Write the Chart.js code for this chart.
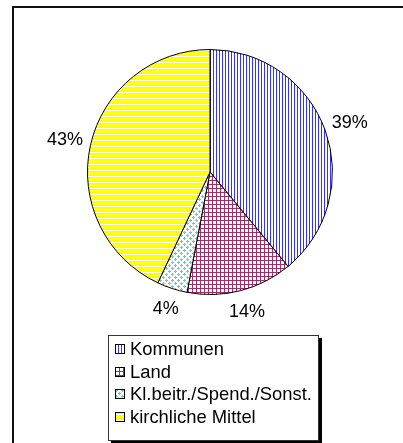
<!DOCTYPE html>
<html>
<head>
<meta charset="utf-8">
<script src="https://cdn.jsdelivr.net/npm/chart.js@4"></script>
<style>
    body { margin: 0; background: #fff; width: 403px; height: 443px; overflow: hidden; position: relative;
           font-family: "Liberation Sans", Arial, sans-serif; }
    .frame { position: absolute; left: 12px; top: 6px; width: 500px; height: 500px;
             border-left: 2px solid #111; border-top: 2px solid #111; }
    #pie { position: absolute; left: 0; top: 0; }
    .legend { position: absolute; left: 108px; top: 335px; width: 211px; height: 106px; box-sizing: border-box;
              border: 1px solid #333; background: #fff; box-shadow: 3px 3px 0 #000; padding-top: 2px; }
    .legend-row { height: 22.6px; display: flex; align-items: center; font-size: 18.4px; padding-left: 6px; color: #000; }
    .legend-row canvas { margin-right: 5px; }
</style>
</head>
<body>
<div class="frame"></div>
<canvas id="pie" width="403" height="443"></canvas>
<div class="legend" id="legend"></div>
<script>
const categories = ['Kommunen', 'Land', 'Kl.beitr./Spend./Sonst.', 'kirchliche Mittel'];
const shares = [39, 14, 4, 43];
const fillKinds = ['vlines', 'grid', 'dots', 'hlines'];

// kleine Schraffur-Muster wie im Original
function makeTile(kind) {
    const c = document.createElement('canvas');
    const g = c.getContext('2d');
    if (kind === 'vlines') {
        c.width = 3; c.height = 3;
        g.fillStyle = '#fff'; g.fillRect(0, 0, 3, 3);
        g.fillStyle = '#3333ff'; g.fillRect(0, 0, 1, 3);
    } else if (kind === 'grid') {
        c.width = 4; c.height = 4;
        g.fillStyle = '#fff'; g.fillRect(0, 0, 4, 4);
        g.fillStyle = '#993366'; g.fillRect(0, 0, 1, 4); g.fillRect(0, 0, 4, 1);
    } else if (kind === 'dots') {
        c.width = 6; c.height = 6;
        g.fillStyle = '#fff'; g.fillRect(0, 0, 6, 6);
        g.fillStyle = '#66cccc';
        g.fillRect(1, 0, 1, 3); g.fillRect(0, 1, 3, 1);
        g.fillRect(4, 3, 1, 3); g.fillRect(3, 4, 3, 1);
    } else {
        c.width = 3; c.height = 3;
        g.fillStyle = '#ffff00'; g.fillRect(0, 0, 3, 3);
        g.fillStyle = '#fff'; g.fillRect(0, 2, 3, 1);
    }
    return c;
}

const ctx = document.getElementById('pie').getContext('2d');
const fills = fillKinds.map(k => ctx.createPattern(makeTile(k), 'repeat'));

const pctLabels = {
    id: 'pctLabels',
    afterDatasetsDraw(chart) {
        const c = chart.ctx;
        const arcs = chart.getDatasetMeta(0).data;
        c.save();
        c.font = '18px "Liberation Sans", Arial, sans-serif';
        c.fillStyle = '#000';
        c.textAlign = 'center';
        c.textBaseline = 'middle';
        arcs.forEach((arc, i) => {
            const { x, y, startAngle, endAngle, outerRadius } =
                arc.getProps(['x', 'y', 'startAngle', 'endAngle', 'outerRadius'], true);
            const mid = (startAngle + endAngle) / 2;
            const dx = Math.cos(mid), dy = Math.sin(mid);
            const text = shares[i] + '%';
            const w = c.measureText(text).width;
            const r = outerRadius + 8;
            c.fillText(text, x + dx * (r + w / 2), y + dy * (r + 14));
        });
        c.restore();
    }
};

new Chart(ctx, {
    type: 'pie',
    data: {
        labels: categories,
        datasets: [{
            data: shares,
            backgroundColor: fills,
            borderColor: '#000',
            borderWidth: 1
        }]
    },
    options: {
        responsive: false,
        animation: false,
        events: [],
        layout: { padding: { left: 87, right: 70, top: 49, bottom: 148 } },
        plugins: { legend: { display: false }, tooltip: { enabled: false } }
    },
    plugins: [pctLabels]
});

// Legende als HTML
const legend = document.getElementById('legend');
categories.forEach((name, i) => {
    const row = document.createElement('div');
    row.className = 'legend-row';
    const box = document.createElement('canvas');
    box.width = 10; box.height = 10;
    const b = box.getContext('2d');
    b.fillStyle = b.createPattern(makeTile(fillKinds[i]), 'repeat');
    b.fillRect(0, 0, 10, 10);
    b.strokeStyle = '#000';
    b.lineWidth = 1;
    b.strokeRect(0.5, 0.5, 9, 9);
    row.appendChild(box);
    const span = document.createElement('span');
    span.textContent = name;
    row.appendChild(span);
    legend.appendChild(row);
});
</script>
</body>
</html>
